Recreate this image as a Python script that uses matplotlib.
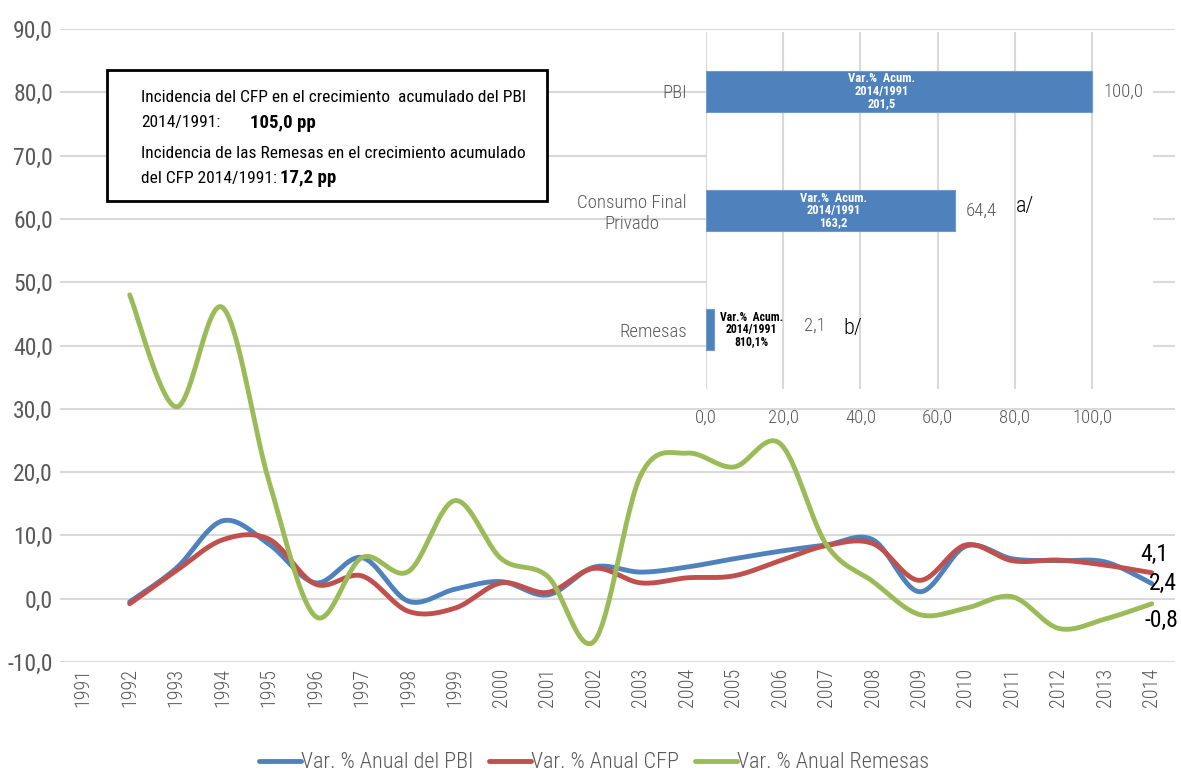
import numpy as np
import matplotlib
matplotlib.use("Agg")
import matplotlib.pyplot as plt
from matplotlib import font_manager as fm
from matplotlib.patches import Rectangle

# ---------------- data ----------------
years = [str(y) for y in range(1991, 2015)]
pbi = [np.nan, -0.5, 4.8, 12.3, 8.6, 2.5, 6.5, -0.4, 1.5, 2.7, 0.6, 5.0, 4.2, 5.0, 6.3, 7.5, 8.5, 9.3, 1.1, 8.3, 6.3, 6.0, 5.8, 2.4]
cfp = [np.nan, -0.8, 4.4, 9.3, 9.4, 2.3, 3.6, -2.0, -1.5, 2.5, 1.0, 4.8, 2.5, 3.3, 3.6, 6.0, 8.4, 8.7, 2.9, 8.5, 6.0, 6.1, 5.3, 4.1]
rem = [np.nan, 48.0, 30.3, 46.0, 18.5, -2.8, 6.5, 4.3, 15.5, 6.3, 3.5, -6.7, 19.5, 23.0, 20.8, 24.5, 8.5, 2.7, -2.5, -1.5, 0.3, -4.7, -3.2, -0.8]
series_names = ["Var. % Anual del PBI", "Var. % Anual CFP", "Var. % Anual Remesas"]
end_labels = ["2,4", "4,1", "-0,8"]

inset_cats = ["PBI", "Consumo Final\nPrivado", "Remesas"]
inset_vals = [100.0, 64.4, 2.1]
inset_labels = ["100,0", "64,4", "2,1"]
inset_notes = ["", "a/", "b/"]
inset_inner = ["Var.%  Acum.\n2014/1991\n201,5", "Var.%  Acum.\n2014/1991\n163,2", "Var.%  Acum.\n2014/1991\n810,1%"]

box_lines = ["Incidencia del CFP en el crecimiento  acumulado del PBI",
             "2014/1991:", "105,0 pp",
             "Incidencia de las Remesas en el crecimiento acumulado",
             "del CFP 2014/1991:", "17,2 pp"]

# ---------------- fonts ----------------
avail = {f.name for f in fm.fontManager.ttflist}
fam = None
for cand in ["Roboto Condensed", "Liberation Sans Narrow", "DejaVu Sans"]:
    if cand in avail:
        fam = cand
        break
plt.rcParams['font.family'] = [fam, 'DejaVu Sans']
LIGHT = 'light'

BLUE = "#4F81BD"; RED = "#C0504D"; GREEN = "#9BBB59"
GRAY = "#595959"; GRID = "#D9D9D9"

W, H = 1181, 773
fig = plt.figure(figsize=(W/100, H/100), dpi=100)

def fx(px): return px / W
def fy(py): return 1 - py / H

# main axes: x 60..1175, y 29..662
ax = fig.add_axes([fx(60), fy(662), fx(1175) - fx(60), fy(29) - fy(662)])
ax.set_xlim(-0.5, len(years) - 0.5)
ax.set_ylim(-10, 90)
ax.set_yticks(np.arange(-10, 91, 10))
ax.set_yticklabels([f"{v:.1f}".replace(".", ",") for v in np.arange(-10, 91, 10)], color=GRAY, fontsize=17)
ax.set_xticks(range(len(years)))
ax.set_xticklabels(years, rotation=90, color=GRAY, fontsize=14.5, fontweight=LIGHT)
ax.tick_params(axis='both', length=0, pad=5)
ax.tick_params(axis='x', pad=4)
ax.grid(axis='y', color=GRID, linewidth=1.5)
ax.set_axisbelow(True)
for s in ax.spines.values():
    s.set_visible(False)

def smooth(vals, n=30):
    idx = [i for i, v in enumerate(vals) if not np.isnan(v)]
    P = np.array([[i, vals[i]] for i in idx], dtype=float)
    xs, ys = [], []
    for k in range(len(P) - 1):
        p0 = P[k - 1] if k > 0 else P[k]
        p1 = P[k]; p2 = P[k + 1]
        p3 = P[k + 2] if k + 2 < len(P) else P[k + 1]
        c1 = p1 + (p2 - p0) / 6
        c2 = p2 - (p3 - p1) / 6
        t = np.linspace(0, 1, n)[:, None]
        B = (1 - t)**3 * p1 + 3 * (1 - t)**2 * t * c1 + 3 * (1 - t) * t**2 * c2 + t**3 * p2
        xs.extend(B[:, 0]); ys.extend(B[:, 1])
    return np.array(xs), np.array(ys)

handles = []
for vals, col, name in zip([pbi, cfp, rem], [BLUE, RED, GREEN], series_names):
    x, y = smooth(vals)
    h, = ax.plot(x, y, color=col, linewidth=3.5, solid_capstyle='round', label=name)
    handles.append(h)

# end labels
last = len(years) - 1
ax.annotate(end_labels[1], (last, cfp[-1]), xytext=(2, 13), textcoords='offset points', fontsize=17, ha='center', va='center')
ax.annotate(end_labels[0], (last, pbi[-1]), xytext=(8, 0), textcoords='offset points', fontsize=17, ha='center', va='center')
ax.annotate(end_labels[2], (last, rem[-1]), xytext=(7, -12), textcoords='offset points', fontsize=17, ha='center', va='center')

leg = fig.legend(handles=handles, loc='center', bbox_to_anchor=(fx(594), fy(763)), ncol=3, frameon=False,
                 handlelength=1.9, handletextpad=0.0, columnspacing=0.7,
                 prop={'size': 16, 'weight': LIGHT})
for t in leg.get_texts():
    t.set_color(GRAY)

# text box
fig.patches.append(Rectangle((fx(107), fy(201)), fx(547) - fx(107), fy(70) - fy(201), transform=fig.transFigure,
                             facecolor='white', edgecolor='black', linewidth=2, zorder=5))
fs = 12.5
fig.text(fx(141), fy(98), box_lines[0], fontsize=fs, va='center', ha='left', zorder=6)
fig.text(fx(141), fy(123), box_lines[1], fontsize=fs, va='center', ha='left', zorder=6)
fig.text(fx(250), fy(123), box_lines[2], fontsize=fs + 1, va='center', ha='left', fontweight='bold', zorder=6)
fig.text(fx(141), fy(153), box_lines[3], fontsize=fs, va='center', ha='left', zorder=6)
t4 = fig.text(fx(141), fy(178), box_lines[4], fontsize=fs, va='center', ha='left', zorder=6)
t5 = fig.text(0, fy(178), box_lines[5], fontsize=fs + 1, va='center', ha='left', fontweight='bold', zorder=6)
# position bold text right after the normal text
fig.canvas.draw()
bb = t4.get_window_extent()
t5.set_position(((bb.x1 + 3) / W, fy(178)))

# inset bar chart: plot area x 706..1153, y 32..389
iax = fig.add_axes([fx(706), fy(389), fx(1153) - fx(706), fy(32) - fy(389)])
iax.set_facecolor('white')
xmax = (1153 - 706) / ((1092 - 706) / 100.0)
iax.set_xlim(0, xmax)
ypos = np.arange(len(inset_cats))
iax.set_ylim(len(inset_cats) - 0.5, -0.5)
iax.barh(ypos, inset_vals, height=0.35, color=BLUE, edgecolor='#6F9AD0', linewidth=0.8, zorder=3)
iax.set_xticks(np.arange(0, 101, 20))
iax.set_xticklabels([f"{v:.1f}".replace(".", ",") for v in np.arange(0, 101, 20)], color=GRAY, fontsize=13.5,
                    fontweight=LIGHT)
iax.set_yticks(ypos)
iax.set_yticklabels(inset_cats, color=GRAY, fontsize=13.5, multialignment='center', fontweight=LIGHT)
iax.tick_params(axis='both', length=0)
iax.tick_params(axis='x', pad=14)
iax.tick_params(axis='y', pad=14)
iax.grid(axis='x', color=GRID, linewidth=1.5, zorder=0)
iax.set_axisbelow(True)
for s in iax.spines.values():
    s.set_visible(False)

lab_off = [(8, 0), (8, 0), (65, 3)]
note_off = [None, (44, 3), (93, 1)]
for i, (v, lab, note) in enumerate(zip(inset_vals, inset_labels, inset_notes)):
    iax.annotate(lab, (v, i), xytext=lab_off[i], textcoords='offset points', fontsize=13.5,
                 color=GRAY, ha='left', va='center', fontweight=LIGHT)
    if note:
        iax.annotate(note, (v, i), xytext=note_off[i], textcoords='offset points', fontsize=16,
                     color='black', ha='left', va='center', fontweight=LIGHT)

iax.text(45.5, 0, inset_inner[0], color='white', fontsize=9, fontweight='bold', ha='center', va='center',
         linespacing=0.95, zorder=4)
iax.text(33.0, 1, inset_inner[1], color='white', fontsize=9, fontweight='bold', ha='center', va='center',
         linespacing=0.95, zorder=4)
iax.text(11.8, 2, inset_inner[2], color='black', fontsize=8.5, fontweight='bold', ha='center', va='center',
         linespacing=0.9, zorder=4)

fig.savefig("out.png", dpi=100)
